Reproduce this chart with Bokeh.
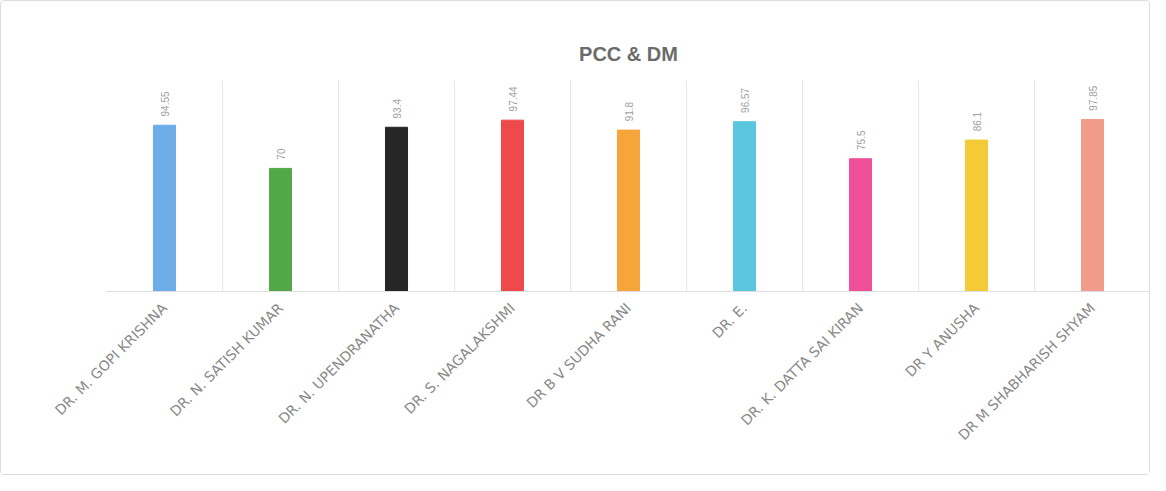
import math
from bokeh.plotting import figure
from bokeh.models import ColumnDataSource, FixedTicker, Range1d
from bokeh.embed import file_html
from bokeh.resources import INLINE
from bokeh.core.properties import value

names = ["DR. M. GOPI KRISHNA", "DR. N. SATISH KUMAR", "DR. N. UPENDRANATHA",
         "DR. S. NAGALAKSHMI", "DR B V SUDHA RANI", "DR. E.",
         "DR. K. DATTA SAI KIRAN", "DR Y ANUSHA", "DR M SHABHARISH SHYAM"]
scores = [94.55, 70, 93.4, 97.44, 91.8, 96.57, 75.5, 86.1, 97.85]
colors = ["#6DAEE9", "#52A847", "#262626", "#EE4A4C", "#F6A53A",
          "#5BC6DF", "#EF4F98", "#F4CA36", "#F19B8B"]

xs = list(range(len(names)))
src = ColumnDataSource(dict(x=xs, top=scores, color=colors,
                            label=[str(v) for v in scores],
                            ly=[v + 5 for v in scores]))

p = figure(width=1150, height=475, output_backend="svg", toolbar_location=None,
           x_range=Range1d(-0.5, len(names) - 0.5), y_range=Range1d(0, 120),
           min_border_left=105, min_border_right=1, min_border_top=79,
           min_border_bottom=185, title="PCC & DM")
p.styles = {"border": "1px solid #dcdcdc", "border-radius": "4px"}
p.title.align = "center"
p.title.text_font = "Liberation Sans"
p.title.text_font_size = "20px"
p.title.text_font_style = "bold"
p.title.text_color = "#6b6b6b"
p.title.offset = 0
p.title.standoff = 32

p.vbar(x="x", top="top", width=0.19, color="color", source=src)
p.text(x="x", y="ly", text="label", angle=math.pi / 2, text_align="left",
       text_baseline="middle", text_font_size="10px", text_color="#a0a0a0",
       text_font=value("Liberation Sans"), source=src)

p.outline_line_color = None
p.yaxis.visible = False
p.ygrid.grid_line_color = None
p.xgrid.ticker = FixedTicker(ticks=[i - 0.5 for i in range(len(names) + 1)])
p.xgrid.grid_line_color = "#e6e6e6"
p.xaxis.ticker = FixedTicker(ticks=xs)
p.xaxis.major_label_overrides = {i: n for i, n in enumerate(names)}
p.xaxis.major_label_orientation = math.pi / 4
p.xaxis.major_label_text_font = "DejaVu Sans"
p.xaxis.major_label_text_font_size = "14px"
p.xaxis.major_label_text_color = "#8a8a8a"
p.xaxis.major_tick_line_color = None
p.xaxis.minor_tick_line_color = None
p.xaxis.axis_line_color = "#dedede"
p.xaxis.major_label_standoff = 8

open("out.html", "w").write(file_html(p, INLINE))
